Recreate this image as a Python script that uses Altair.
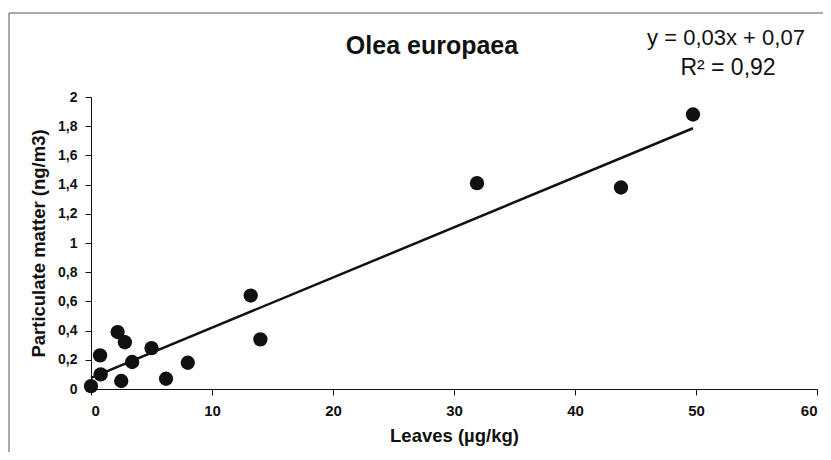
import altair as alt
import pandas as pd

leaves = [0.0, 0.8, 0.75, 2.2, 2.8, 2.5, 3.4, 5.0, 6.2, 8.0, 13.2, 14.0, 31.9, 43.8, 49.75]
pm = [0.02, 0.10, 0.23, 0.39, 0.32, 0.055, 0.185, 0.28, 0.07, 0.18, 0.64, 0.34, 1.41, 1.38, 1.88]
x_ticks = [0, 10, 20, 30, 40, 50, 60]
y_ticks = [0, 0.2, 0.4, 0.6, 0.8, 1, 1.2, 1.4, 1.6, 1.8, 2]

df = pd.DataFrame({"leaves": leaves, "pm": pm})
one = pd.DataFrame({"k": [0]})

FONT = "Liberation Sans"

xenc = alt.X("leaves:Q", scale=alt.Scale(domain=[0, 60], nice=False),
             axis=alt.Axis(values=x_ticks, title="Leaves (µg/kg)",
                           grid=False, tickSize=6, labelPadding=8, titlePadding=8,
                           labelOverlap=False,
                           domainColor="#111", tickColor="#111", labelColor="#111",
                           titleColor="#111", labelFont=FONT, titleFont=FONT,
                           labelFontSize=15, labelFontWeight="bold",
                           titleFontSize=18.5, titleFontWeight="bold"))
yenc = alt.Y("pm:Q", scale=alt.Scale(domain=[0, 2], nice=False),
             axis=alt.Axis(values=y_ticks,
                           title="Particulate matter (ng/m3)",
                           labelExpr="replace(format(datum.value, '~g'), '.', ',')",
                           labelOverlap=False,
                           grid=False, tickSize=6, labelPadding=8, titlePadding=9,
                           domainColor="#111", tickColor="#111", labelColor="#111",
                           titleColor="#111", labelFont=FONT, titleFont=FONT,
                           labelFontSize=14, labelFontWeight="bold",
                           titleFontSize=18.5, titleFontWeight="bold"))

base = alt.Chart(df)
single = alt.Chart(one)

frame = single.mark_rect(fill=None, stroke="#555", strokeWidth=1).encode(
    x=alt.value(-82), x2=alt.value(900), y=alt.value(-84), y2=alt.value(600))

points = base.mark_circle(size=205, color="#111", opacity=1).encode(x=xenc, y=yenc)

line = base.transform_regression("leaves", "pm").mark_line(
    color="#111", strokeWidth=2.5).encode(x=xenc, y=yenc)

title = single.mark_text(text="Olea europaea", font=FONT, fontSize=25, fontWeight="bold",
                         color="#111", align="center", baseline="middle").encode(
    x=alt.value(341), y=alt.value(-51))

eq1 = single.mark_text(text="y = 0,03x + 0,07", font=FONT, fontSize=22, color="#111",
                       align="center", baseline="middle").encode(
    x=alt.value(635), y=alt.value(-59))
eq2 = single.mark_text(text="R² = 0,92", font=FONT, fontSize=23, color="#111",
                       align="center", baseline="middle").encode(
    x=alt.value(637), y=alt.value(-29))

chart = alt.layer(frame, points, line, title, eq1, eq2).properties(
    width=726, height=292,
    autosize=alt.AutoSizeParams(type="none"),
    padding={"left": 83, "top": 89, "right": 6, "bottom": 63},
    background="white",
).configure_view(stroke=None)

chart.save("out.html", embed_options={"renderer": "svg", "actions": False})
